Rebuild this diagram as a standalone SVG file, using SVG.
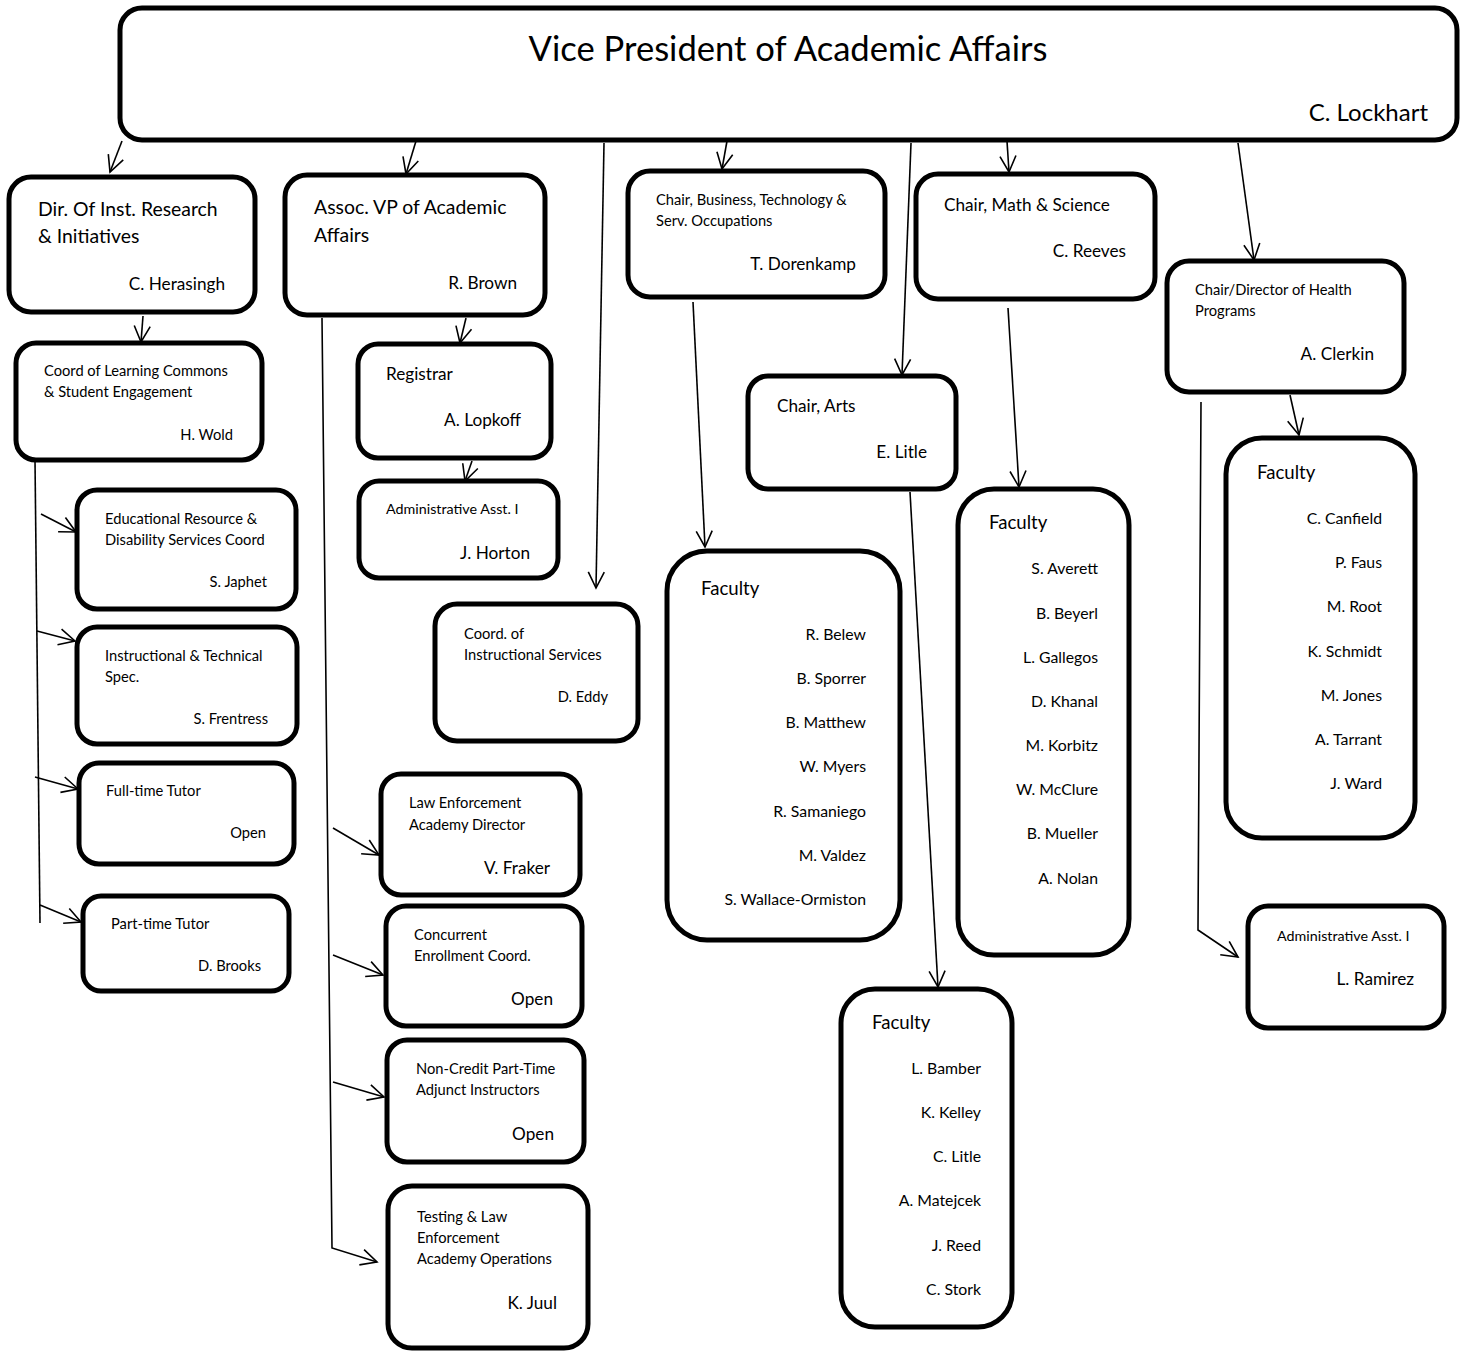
<svg xmlns="http://www.w3.org/2000/svg" width="1461" height="1352" viewBox="0 0 1461 1352">
<style>
.box{fill:#fff;stroke:#000;stroke-width:5}
.c{fill:none;stroke:#000;stroke-width:1.6}
text{font-family:Lato,"Open Sans","Liberation Sans",sans-serif;fill:#000}
.ti{font-size:34.6px}
.big{font-size:24px}
.h{font-size:19.4px}
.m{font-size:17.2px}
.s{font-size:14.7px}
.xs{font-size:14.3px}
.fa{font-size:18.6px}
.fn{font-size:15.8px}
.r{text-anchor:end}
</style>
<defs>
<marker id="ah" markerUnits="userSpaceOnUse" markerWidth="22" markerHeight="22" viewBox="0 0 22 22" refX="19" refY="11" orient="auto">
<path d="M3,3 L19,11 L3,19" fill="none" stroke="#000" stroke-width="1.6"/>
</marker>
</defs>
<g id="connectors">
<line class="c" x1="122" y1="141" x2="110" y2="172" marker-end="url(#ah)"/>
<line class="c" x1="416" y1="141" x2="406" y2="174" marker-end="url(#ah)"/>
<line class="c" x1="604" y1="143" x2="596" y2="588" marker-end="url(#ah)"/>
<line class="c" x1="727" y1="141" x2="722" y2="169" marker-end="url(#ah)"/>
<line class="c" x1="911" y1="143" x2="902" y2="375" marker-end="url(#ah)"/>
<line class="c" x1="1007" y1="141" x2="1009" y2="172" marker-end="url(#ah)"/>
<line class="c" x1="1238" y1="143" x2="1254" y2="260" marker-end="url(#ah)"/>
<line class="c" x1="143" y1="316" x2="141" y2="342" marker-end="url(#ah)"/>
<line class="c" x1="35" y1="460" x2="40" y2="923"/>
<line class="c" x1="41" y1="514" x2="76" y2="532" marker-end="url(#ah)"/>
<line class="c" x1="37" y1="631" x2="75" y2="641" marker-end="url(#ah)"/>
<line class="c" x1="35" y1="777" x2="78" y2="789" marker-end="url(#ah)"/>
<line class="c" x1="40" y1="905" x2="81" y2="922" marker-end="url(#ah)"/>
<line class="c" x1="466" y1="318" x2="460" y2="343" marker-end="url(#ah)"/>
<line class="c" x1="472" y1="461" x2="465" y2="481" marker-end="url(#ah)"/>
<polyline class="c" points="322,318 332,1248 377,1262" marker-end="url(#ah)"/>
<line class="c" x1="333" y1="828" x2="379" y2="855" marker-end="url(#ah)"/>
<line class="c" x1="333" y1="955" x2="383" y2="975" marker-end="url(#ah)"/>
<line class="c" x1="333" y1="1082" x2="384" y2="1097" marker-end="url(#ah)"/>
<line class="c" x1="693" y1="302" x2="705" y2="547" marker-end="url(#ah)"/>
<line class="c" x1="910" y1="492" x2="938" y2="987" marker-end="url(#ah)"/>
<line class="c" x1="1008" y1="308" x2="1019" y2="487" marker-end="url(#ah)"/>
<line class="c" x1="1290" y1="395" x2="1299" y2="435" marker-end="url(#ah)"/>
<polyline class="c" points="1201,402 1198,930 1238,957" marker-end="url(#ah)"/>
</g>
<g id="vp">
<rect class="box" x="120" y="8" width="1337" height="132" rx="22"/>
<text class="ti" x="788" y="61" text-anchor="middle">Vice President of Academic Affairs</text>
<text class="big r" x="1428" y="121">C. Lockhart</text>
</g>
<g id="dir-research">
<rect class="box" x="9" y="177" width="246" height="135" rx="22"/>
<text class="h" x="38" y="216">Dir. Of Inst. Research</text>
<text class="h" x="38" y="243">&amp; Initiatives</text>
<text class="m r" x="225" y="290">C. Herasingh</text>
</g>
<g id="assoc-vp">
<rect class="box" x="285" y="175" width="260" height="140" rx="22"/>
<text class="h" x="314" y="214">Assoc. VP of Academic</text>
<text class="h" x="314" y="242">Affairs</text>
<text class="m r" x="517" y="289">R. Brown</text>
</g>
<g id="chair-business">
<rect class="box" x="628" y="171" width="257" height="126" rx="22"/>
<text class="s" x="656" y="205">Chair, Business, Technology &amp;</text>
<text class="s" x="656" y="226">Serv. Occupations</text>
<text class="m r" x="856" y="270">T. Dorenkamp</text>
</g>
<g id="chair-math">
<rect class="box" x="916" y="174" width="239" height="125" rx="22"/>
<text class="m" x="944" y="211">Chair, Math &amp; Science</text>
<text class="m r" x="1126" y="257">C. Reeves</text>
</g>
<g id="chair-health">
<rect class="box" x="1167" y="261" width="237" height="131" rx="22"/>
<text class="s" x="1195" y="295">Chair/Director of Health</text>
<text class="s" x="1195" y="316">Programs</text>
<text class="m r" x="1374" y="360">A. Clerkin</text>
</g>
<g id="coord-learning">
<rect class="box" x="16" y="343" width="246" height="117" rx="20"/>
<text class="s" x="44" y="376">Coord of Learning Commons</text>
<text class="s" x="44" y="397">&amp; Student Engagement</text>
<text class="s r" x="233" y="440">H. Wold</text>
</g>
<g id="registrar">
<rect class="box" x="358" y="344" width="193" height="114" rx="20"/>
<text class="m" x="386" y="380">Registrar</text>
<text class="m r" x="521" y="426">A. Lopkoff</text>
</g>
<g id="admin-horton">
<rect class="box" x="359" y="481" width="199" height="97" rx="20"/>
<text class="xs" x="386" y="514">Administrative Asst. I</text>
<text class="m r" x="530" y="559">J. Horton</text>
</g>
<g id="chair-arts">
<rect class="box" x="748" y="376" width="208" height="113" rx="20"/>
<text class="m" x="777" y="412">Chair, Arts</text>
<text class="m r" x="927" y="458">E. Litle</text>
</g>
<g id="edu-resource">
<rect class="box" x="77" y="490" width="219" height="119" rx="20"/>
<text class="s" x="105" y="524">Educational Resource &amp;</text>
<text class="s" x="105" y="545">Disability Services Coord</text>
<text class="s r" x="267" y="587">S. Japhet</text>
</g>
<g id="instr-tech">
<rect class="box" x="77" y="627" width="220" height="117" rx="20"/>
<text class="s" x="105" y="661">Instructional &amp; Technical</text>
<text class="s" x="105" y="682">Spec.</text>
<text class="s r" x="268" y="724">S. Frentress</text>
</g>
<g id="ft-tutor">
<rect class="box" x="79" y="763" width="215" height="101" rx="20"/>
<text class="s" x="106" y="796">Full-time Tutor</text>
<text class="s r" x="266" y="838">Open</text>
</g>
<g id="pt-tutor">
<rect class="box" x="83" y="896" width="206" height="95" rx="18"/>
<text class="s" x="111" y="929">Part-time Tutor</text>
<text class="s r" x="261" y="971">D. Brooks</text>
</g>
<g id="coord-instr">
<rect class="box" x="435" y="604" width="203" height="137" rx="22"/>
<text class="s" x="464" y="639">Coord. of</text>
<text class="s" x="464" y="660">Instructional Services</text>
<text class="s r" x="608" y="702">D. Eddy</text>
</g>
<g id="law-director">
<rect class="box" x="381" y="774" width="199" height="121" rx="20"/>
<text class="s" x="409" y="808">Law Enforcement</text>
<text class="s" x="409" y="830">Academy Director</text>
<text class="m r" x="550" y="874">V. Fraker</text>
</g>
<g id="concurrent">
<rect class="box" x="386" y="906" width="196" height="120" rx="20"/>
<text class="s" x="414" y="940">Concurrent</text>
<text class="s" x="414" y="961">Enrollment Coord.</text>
<text class="m r" x="553" y="1005">Open</text>
</g>
<g id="noncredit">
<rect class="box" x="387" y="1040" width="197" height="122" rx="20"/>
<text class="s" x="416" y="1074">Non-Credit Part-Time</text>
<text class="s" x="416" y="1095">Adjunct Instructors</text>
<text class="m r" x="554" y="1140">Open</text>
</g>
<g id="testing">
<rect class="box" x="388" y="1186" width="200" height="162" rx="24"/>
<text class="s" x="417" y="1222">Testing &amp; Law</text>
<text class="s" x="417" y="1243">Enforcement</text>
<text class="s" x="417" y="1264">Academy Operations</text>
<text class="m r" x="557" y="1309">K. Juul</text>
</g>
<g id="faculty-business">
<rect class="box" x="667" y="551" width="233" height="389" rx="40"/>
<text class="fa" x="701" y="595">Faculty</text>
<text class="fn r" x="866" y="640">R. Belew</text>
<text class="fn r" x="866" y="684">B. Sporrer</text>
<text class="fn r" x="866" y="728">B. Matthew</text>
<text class="fn r" x="866" y="772">W. Myers</text>
<text class="fn r" x="866" y="817">R. Samaniego</text>
<text class="fn r" x="866" y="861">M. Valdez</text>
<text class="fn r" x="866" y="905">S. Wallace-Ormiston</text>
</g>
<g id="faculty-math">
<rect class="box" x="958" y="489" width="171" height="466" rx="36"/>
<text class="fa" x="989" y="529">Faculty</text>
<text class="fn r" x="1098" y="574">S. Averett</text>
<text class="fn r" x="1098" y="619">B. Beyerl</text>
<text class="fn r" x="1098" y="663">L. Gallegos</text>
<text class="fn r" x="1098" y="707">D. Khanal</text>
<text class="fn r" x="1098" y="751">M. Korbitz</text>
<text class="fn r" x="1098" y="795">W. McClure</text>
<text class="fn r" x="1098" y="839">B. Mueller</text>
<text class="fn r" x="1098" y="884">A. Nolan</text>
</g>
<g id="faculty-health">
<rect class="box" x="1226" y="438" width="189" height="400" rx="36"/>
<text class="fa" x="1257" y="479">Faculty</text>
<text class="fn r" x="1382" y="524">C. Canfield</text>
<text class="fn r" x="1382" y="568">P. Faus</text>
<text class="fn r" x="1382" y="612">M. Root</text>
<text class="fn r" x="1382" y="657">K. Schmidt</text>
<text class="fn r" x="1382" y="701">M. Jones</text>
<text class="fn r" x="1382" y="745">A. Tarrant</text>
<text class="fn r" x="1382" y="789">J. Ward</text>
</g>
<g id="admin-ramirez">
<rect class="box" x="1248" y="906" width="196" height="122" rx="20"/>
<text class="xs" x="1277" y="941">Administrative Asst. I</text>
<text class="m r" x="1414" y="985">L. Ramirez</text>
</g>
<g id="faculty-arts">
<rect class="box" x="841" y="989" width="171" height="338" rx="34"/>
<text class="fa" x="872" y="1029">Faculty</text>
<text class="fn r" x="981" y="1074">L. Bamber</text>
<text class="fn r" x="981" y="1118">K. Kelley</text>
<text class="fn r" x="981" y="1162">C. Litle</text>
<text class="fn r" x="981" y="1206">A. Matejcek</text>
<text class="fn r" x="981" y="1251">J. Reed</text>
<text class="fn r" x="981" y="1295">C. Stork</text>
</g>
</svg>
